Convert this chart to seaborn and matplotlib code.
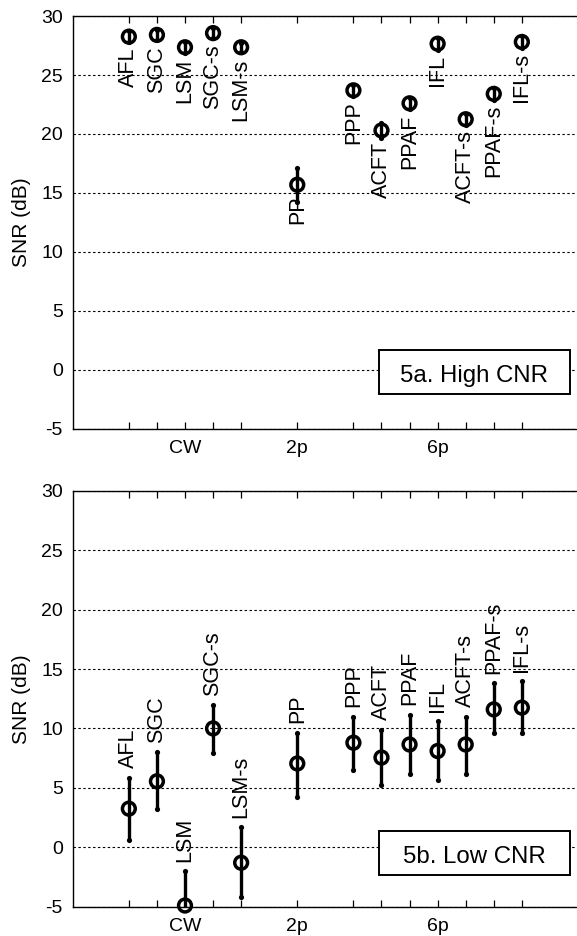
import matplotlib
matplotlib.use("Agg")
import matplotlib.pyplot as plt
from matplotlib.patches import Rectangle
import seaborn as sns
import pandas as pd

# methods and x positions (gap after CW group and after 2p)
methods = ['AFL', 'SGC', 'LSM', 'SGC-s', 'LSM-s', 'PP', 'PPP', 'ACFT', 'PPAF',
           'IFL', 'ACFT-s', 'PPAF-s', 'IFL-s']
positions = [1, 2, 3, 4, 5, 7, 9, 10, 11, 12, 13, 14, 15]
group_ticks = [3, 7, 12]
group_labels = ['CW', '2p', '6p']

# 5a. High CNR
high_mean = [28.25, 28.4, 27.35, 28.55, 27.35, 15.7, 23.7, 20.3, 22.6, 27.65, 21.25, 23.4, 27.8]
high_lo = [27.8, 28.0, 26.9, 28.1, 26.95, 14.25, 23.25, 19.7, 22.15, 27.15, 20.8, 22.9, 27.3]
high_hi = [28.7, 28.8, 27.8, 29.0, 27.75, 17.1, 24.15, 20.9, 23.05, 28.15, 21.7, 23.9, 28.3]

# 5b. Low CNR
low_mean = [3.25, 5.55, -4.9, 10.0, -1.3, 7.05, 8.8, 7.55, 8.65, 8.1, 8.65, 11.6, 11.75]
low_lo = [0.65, 3.25, -7.8, 7.9, -4.2, 4.25, 6.5, 5.25, 6.15, 5.65, 6.15, 9.6, 9.6]
low_hi = [5.85, 8.0, -2.0, 11.95, 1.7, 9.65, 11.0, 9.9, 11.15, 10.6, 11.0, 13.8, 13.95]

sns.set_theme(style='white')
plt.rcParams['font.family'] = ['Liberation Sans', 'DejaVu Sans']
plt.rcParams['text.color'] = 'black'
plt.rcParams['axes.labelcolor'] = 'black'
plt.rcParams['xtick.color'] = 'black'
plt.rcParams['ytick.color'] = 'black'
plt.rcParams['axes.unicode_minus'] = False

fig = plt.figure(figsize=(5.77, 9.36), dpi=100)
ax1 = fig.add_axes([0.126, 0.5417, 0.8757, 0.4412])
ax2 = fig.add_axes([0.126, 0.0313, 0.8757, 0.4444])


def draw_panel(ax, mean, lo, hi, labels_above, title, box_y):
    df = pd.DataFrame({'x': positions, 'mean': mean, 'lo': lo, 'hi': hi, 'name': methods})
    ax.set_axisbelow(True)
    ax.vlines(df['x'], df['lo'], df['hi'], color='black', lw=2.4, zorder=3)
    caps = pd.concat([df[['x', 'lo']].rename(columns={'lo': 'y'}),
                      df[['x', 'hi']].rename(columns={'hi': 'y'})])
    sns.scatterplot(data=caps, x='x', y='y', color='black', s=14, marker='o',
                    linewidth=0, ax=ax, zorder=4)
    sns.scatterplot(data=df, x='x', y='mean', marker='o', s=85, facecolors='none',
                    edgecolors='black', linewidth=2.5, ax=ax, zorder=5, clip_on=False)

    for _, r in df.iterrows():
        if labels_above:
            ax.text(r['x'], r['hi'] + 0.8, r['name'], rotation=90, ha='center',
                    va='bottom', fontsize=15.5)
        else:
            ax.text(r['x'], r['mean'] - 0.95, r['name'], rotation=90, ha='center',
                    va='top', fontsize=15.5)

    ax.set_xlim(-1, 17)
    ax.set_ylim(-5, 30)
    ax.set_yticks(range(-5, 31, 5))
    ax.set_xticks(positions)
    ax.set_xticklabels([group_labels[group_ticks.index(p)] if p in group_ticks else ''
                        for p in positions])
    ax.tick_params(axis='x', direction='in', length=5, width=0.9, top=True,
                   bottom=True, labelsize=14, pad=8)
    ax.tick_params(axis='y', direction='in', length=0, labelsize=14, pad=7)
    ax.yaxis.grid(True, color='black', linestyle=(0, (2.2, 2.2)), lw=0.8)
    ax.xaxis.grid(False)
    for side in ['top', 'left', 'bottom']:
        ax.spines[side].set_color('black')
        ax.spines[side].set_linewidth(1.0)
    ax.spines['right'].set_visible(False)

    ax.set_xlabel('')
    ax.set_ylabel('SNR (dB)', fontsize=15)
    ax.yaxis.set_label_coords(-0.083, 0.5)

    box = Rectangle((0.606, box_y), 0.378, 0.106, transform=ax.transAxes,
                    facecolor='white', edgecolor='black', lw=1.4, zorder=6)
    ax.add_patch(box)
    t = ax.text(0.795, box_y + 0.028, title, transform=ax.transAxes, ha='center',
                va='baseline', fontsize=17.3, zorder=7)
    # text is cut at the bottom of the box area like in the original
    t.set_clip_path(Rectangle((0.606, box_y + 0.024), 0.378, 0.082,
                              transform=ax.transAxes))


draw_panel(ax1, high_mean, high_lo, high_hi, False, '5a. High CNR', 0.085)
draw_panel(ax2, low_mean, low_lo, low_hi, True, '5b. Low CNR', 0.076)

fig.savefig('out.png', dpi=100)
